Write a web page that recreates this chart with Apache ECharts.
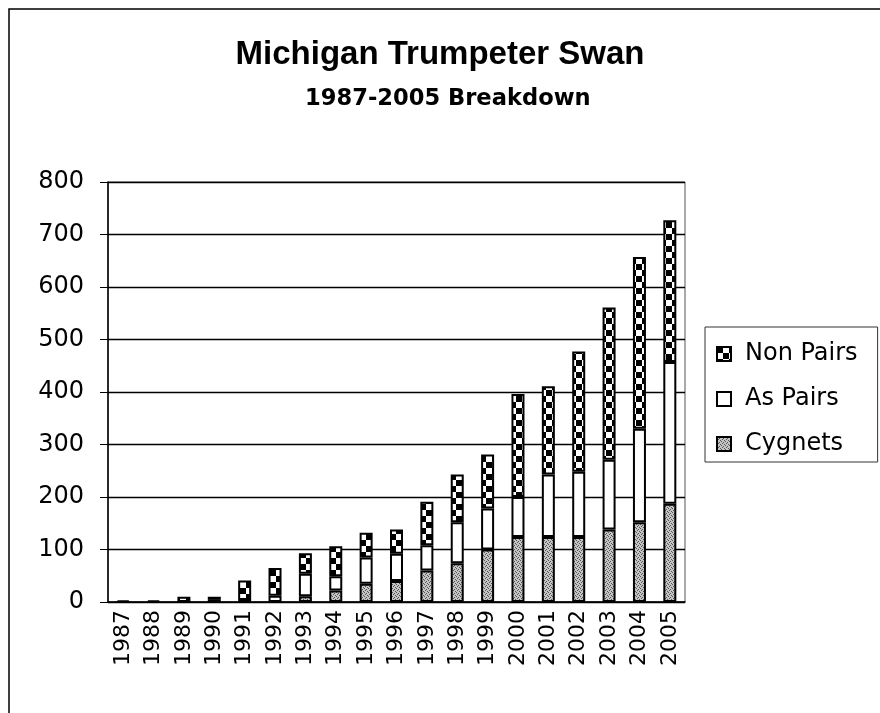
<!DOCTYPE html>
<html>
<head>
<meta charset="utf-8">
<script src="https://cdn.jsdelivr.net/npm/echarts@6/dist/echarts.min.js"></script>
<style>
  html, body { margin: 0; padding: 0; background: #fff; }
  #chart { width: 880px; height: 713px; }
</style>
</head>
<body>
<div id="chart"></div>
<script>
const years = ['1987','1988','1989','1990','1991','1992','1993','1994','1995','1996',
               '1997','1998','1999','2000','2001','2002','2003','2004','2005']
const cygnets  = [0, 0, 0, 0, 0, 0, 11, 22, 35, 40, 60, 74, 100, 124, 124, 124, 138, 152, 187]
const asPairs  = [0, 0, 0, 4, 4, 12, 43, 27, 50, 52, 48, 78, 78, 76, 119, 124, 133, 178, 270]
const nonPairs = [3, 3, 10, 6, 37, 53, 39, 57, 47, 46, 83, 91, 103, 196, 168, 229, 290, 327, 270]
const yTicks = [0, 100, 200, 300, 400, 500, 600, 700, 800]

// fill patterns like the old excel ones
function checker() {
  const c = document.createElement('canvas')
  c.width = 12; c.height = 12
  const g = c.getContext('2d')
  g.fillStyle = '#fff'; g.fillRect(0, 0, 12, 12)
  g.fillStyle = '#000'
  g.fillRect(0, 0, 6, 6); g.fillRect(6, 6, 6, 6)
  return c
}
function stipple() {
  const c = document.createElement('canvas')
  c.width = 4; c.height = 4
  const g = c.getContext('2d')
  g.fillStyle = '#c4c4c4'; g.fillRect(0, 0, 4, 4)
  g.fillStyle = '#555'
  g.fillRect(0, 0, 1, 1); g.fillRect(2, 1, 1, 1); g.fillRect(1, 2, 1, 1); g.fillRect(3, 3, 1, 1)
  return c
}
const checkFill = { image: checker(), repeat: 'repeat' }
const dotFill = { image: stipple(), repeat: 'repeat' }

const chart = echarts.init(document.getElementById('chart'))
const bar = (name, data, fill) => ({
  name, data, type: 'bar', stack: 'all', barWidth: 13,
  itemStyle: { color: fill, borderColor: '#000', borderWidth: 2 }
})

chart.setOption({
  animation: false,
  backgroundColor: '#fff',
  graphic: [
    { type: 'rect', shape: { x: 9, y: 9, width: 900, height: 800 },
      style: { fill: 'none', stroke: '#000', lineWidth: 1.5 } },
    { type: 'text', left: 'center', top: 38,
      style: { text: 'Michigan Trumpeter Swan', font: 'bold 33px "Liberation Sans"', fill: '#000' } },
    { type: 'text', left: 305, top: 88,
      style: { text: '1987-2005 Breakdown', font: 'bold 22.6px "DejaVu Sans"', fill: '#000' } }
  ],
  grid: { left: 108, right: 195, top: 182, bottom: 111, show: true, borderColor: '#555', borderWidth: 1 },
  legend: {
    orient: 'vertical', left: 705, top: 327,
    padding: [15, 20, 6, 11], itemGap: 21,
    itemWidth: 14, itemHeight: 14, icon: 'rect',
    borderColor: '#333', borderWidth: 1, backgroundColor: '#fff',
    data: ['Non Pairs', 'As Pairs', 'Cygnets'],
    textStyle: { fontFamily: 'DejaVu Sans', fontSize: 24, color: '#000', padding: [0, 0, 0, 9] }
  },
  xAxis: {
    type: 'category', data: years,
    axisLine: { lineStyle: { color: '#000', width: 1.5 } },
    axisTick: { length: 8, lineStyle: { color: '#000' } },
    axisLabel: { rotate: 90, margin: 8, interval: 0, fontFamily: 'DejaVu Sans', fontSize: 22, color: '#000' }
  },
  yAxis: {
    type: 'value', min: yTicks[0], max: yTicks[yTicks.length - 1], interval: 100,
    axisLine: { show: true, lineStyle: { color: '#000', width: 1.5 } },
    axisTick: { show: true, length: 8, lineStyle: { color: '#000' } },
    axisLabel: { margin: 24, fontFamily: 'DejaVu Sans', fontSize: 24, color: '#000' },
    splitLine: { lineStyle: { color: '#000', width: 1.4 } }
  },
  series: [
    bar('Cygnets', cygnets, dotFill),
    bar('As Pairs', asPairs, '#fff'),
    bar('Non Pairs', nonPairs, checkFill)
  ]
})
</script>
</body>
</html>
